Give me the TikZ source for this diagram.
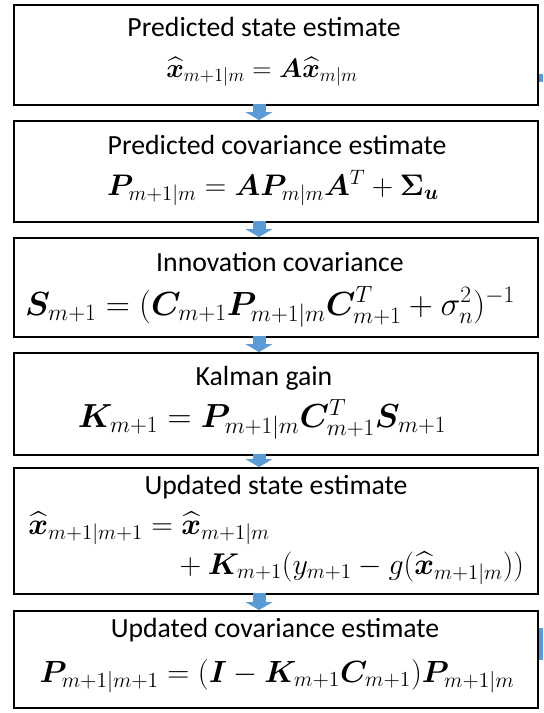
\RequirePackage{fix-cm}
\documentclass[tikz,border=0pt]{standalone}
\usepackage{amsmath,amssymb,bm}
\usepackage{fontspec}
\newfontfamily\titulofont{Carlito}
\usetikzlibrary{arrows.meta,positioning,calc}
\definecolor{flechaAzul}{RGB}{91,155,213}
\colorlet{borde}{black}

\begin{document}
\begin{tikzpicture}[x=0.75pt,y=-0.75pt,>=stealth,
    caja/.style={draw=borde,line width=1.4pt,minimum width=393pt,inner sep=0pt},
    titulo/.style={font=\titulofont\fontsize{20.8}{24}\selectfont,inner sep=0pt},
    formula/.style={font=\fontsize{#1}{27}\selectfont,inner sep=0pt},
    formula/.default=20,
    flecha/.style={flechaAzul,line width=9.75pt,-{Triangle[length=6pt,width=20pt]}}]
  \useasboundingbox (0,0) rectangle (543,713);
  % cajas
  \node[caja,minimum height=75pt]    (caja1) at (276,55)    {};
  \node[caja,minimum height=75.75pt] (caja2) at (276,171.5) {};
  \node[caja,minimum height=74.25pt] (caja3) at (276,287.5) {};
  \node[caja,minimum height=76.5pt]  (caja4) at (276,404)   {};
  \node[caja,minimum height=94.5pt]  (caja5) at (276,531)   {};
  \node[caja,minimum height=72.75pt] (caja6) at (276,659.5) {};
  % titulos
  \node[titulo] (tit1) at (264,27)  {Predicted state estimate};
  \node[titulo] (tit2) at (277,145) {Predicted covariance estimate};
  \node[titulo] (tit3) at (280,262) {Innovation covariance};
  \node[titulo] (tit4) at (264,378) {Kalman gain};
  \node[titulo] (tit5) at (276,487) {Updated state estimate};
  \node[titulo] (tit6) at (275,630) {Updated covariance estimate};
  % formulas
  \node[formula=20] (for1) at (262,72)
    {$\widehat{\bm{x}}_{m+1|m} = \bm{A}\widehat{\bm{x}}_{m|m}$};
  \node[formula=22.3] (for2) at (273,188)
    {$\bm{P}_{m+1|m} = \bm{A}\bm{P}_{m|m}\bm{A}^T + \bm{\Sigma}_{\bm{u}}$};
  \node[formula=25.1] (for3) at (270,307)
    {$\bm{S}_{m+1} = (\bm{C}_{m+1}\bm{P}_{m+1|m}\bm{C}_{m+1}^T + \sigma_n^2)^{-1}$};
  \node[formula=25] (for4) at (262,419)
    {$\bm{K}_{m+1} = \bm{P}_{m+1|m}\bm{C}_{m+1}^T\bm{S}_{m+1}$};
  \node[formula=22.5,anchor=west] (for5) at (28,547)
    {$\begin{aligned}
      \widehat{\bm{x}}_{m+1|m+1} &= \widehat{\bm{x}}_{m+1|m}\\
      &\phantom{=}\;+ \bm{K}_{m+1}(y_{m+1} - g(\widehat{\bm{x}}_{m+1|m}))
    \end{aligned}$};
  \node[formula=23] (for6) at (277,676)
    {$\bm{P}_{m+1|m+1} = (\bm{I} - \bm{K}_{m+1}\bm{C}_{m+1})\bm{P}_{m+1|m}$};
  % flechas
  \coordinate (eje) at (259,0);
  \foreach \a/\b in {1/2,2/3,3/4,4/5,5/6}
    \draw[flecha] ($(caja\a.south -| eje)+(0,-2)$) -- (caja\b.north -| eje);
  \fill[flechaAzul] (539,74) rectangle (543,82);
  \fill[flechaAzul] (539,628) rectangle (543,660);
\end{tikzpicture}
\end{document}
